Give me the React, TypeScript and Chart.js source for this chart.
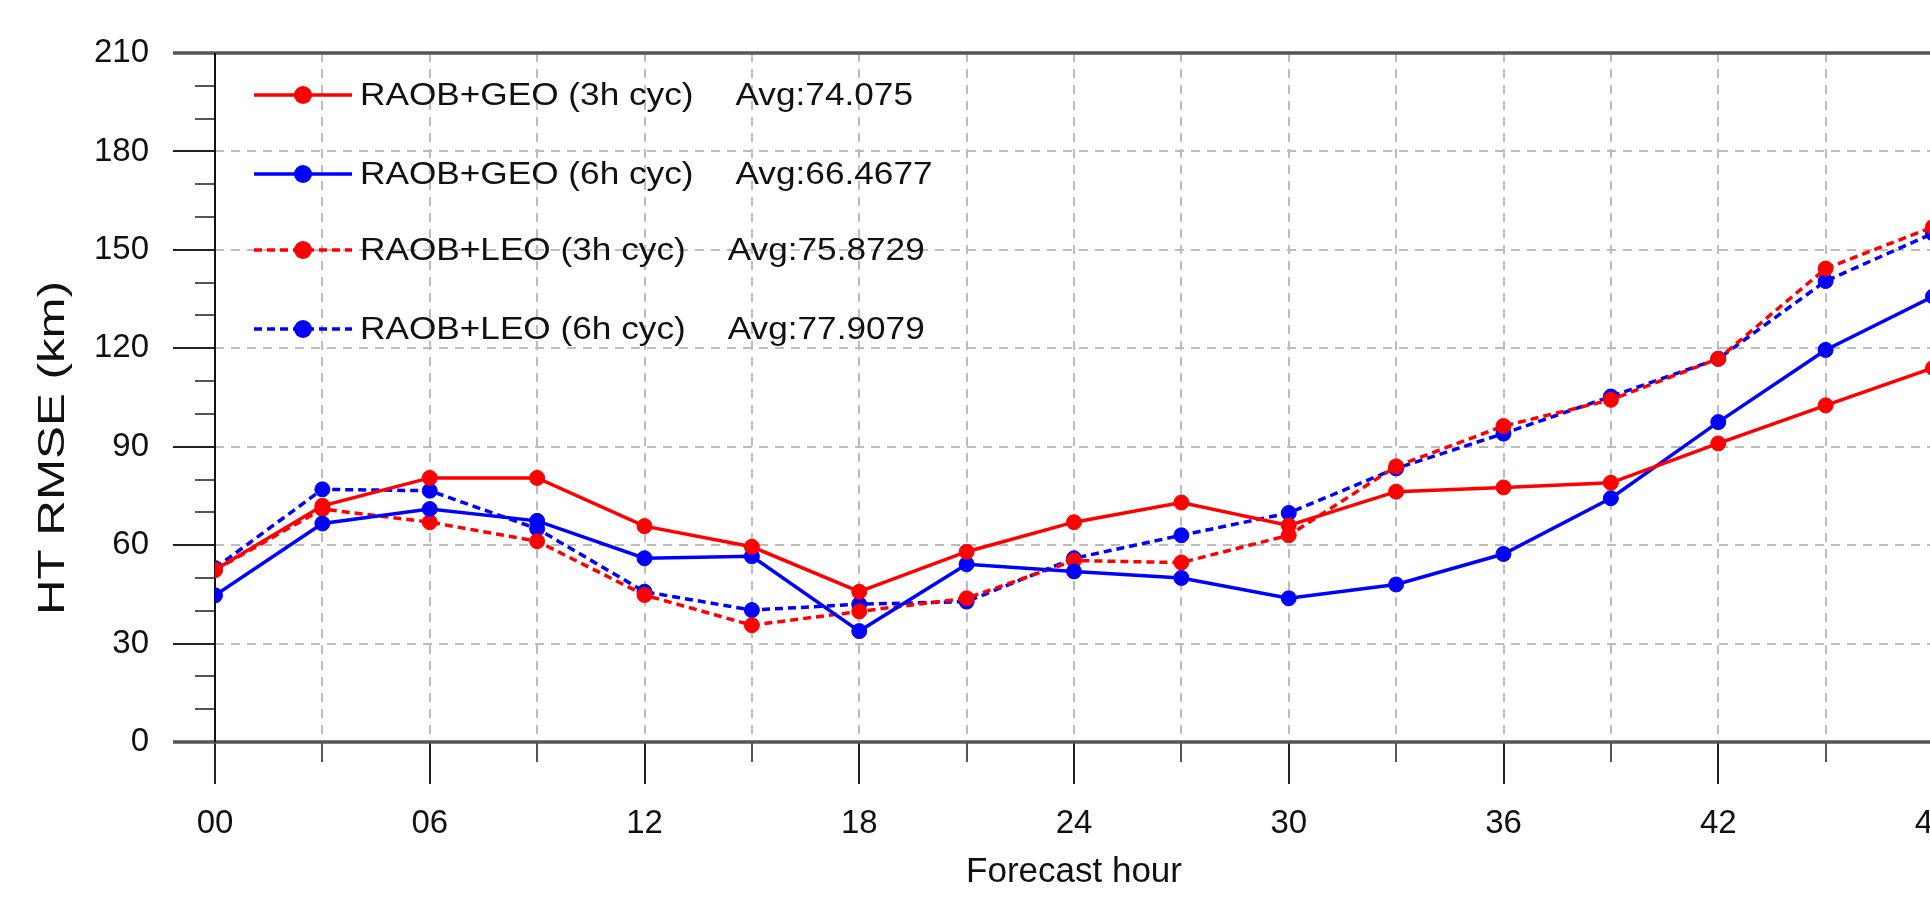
import React, { useEffect, useRef } from "react";
import { Chart, registerables } from "chart.js";

Chart.register(...registerables);

// ---------- data ----------
const hours = [0, 3, 6, 9, 12, 15, 18, 21, 24, 27, 30, 33, 36, 39, 42, 45, 48];
const geo3h = [52.5, 72, 80.5, 80.5, 65.8, 59.5, 45.8, 58, 67, 73, 66, 76.3, 77.6, 79, 91, 102.6, 114];
const geo6h = [44.7, 66.6, 71, 67.4, 56, 56.6, 33.8, 54.2, 52, 50, 43.8, 48, 57.3, 74.3, 97.5, 119.5, 135.8];
const leo3h = [52.4, 71, 67, 61.2, 44.8, 35.6, 39.8, 43.8, 55.3, 54.7, 63, 84, 96.3, 104.3, 116.8, 144.3, 157];
const leo6h = [53, 77, 76.6, 65, 45.8, 40.2, 42, 42.8, 56, 63, 69.8, 83.4, 94, 105.3, 116.8, 140.5, 155];

const seriesNames = ["RAOB+GEO (3h cyc)", "RAOB+GEO (6h cyc)", "RAOB+LEO (3h cyc)", "RAOB+LEO (6h cyc)"];
const seriesAvgs = ["Avg:74.075", "Avg:66.4677", "Avg:75.8729", "Avg:77.9079"];

const yMin = 0;
const yMax = 210;
const yMajorStep = 30;
const yMinorStep = 10;
const xMin = 0;
const xMax = 48;
const xMajorStep = 6;
const xMinorStep = 3;

const xTitle = "Forecast hour";
const yTitle = "HT RMSE (km)";

// ---------- layout / style ----------
const CANVAS_W = 1980;
const CANVAS_H = 897;
const FONT = "'Liberation Sans', Arial, Helvetica, sans-serif";
const RED = "#ff0000";
const BLUE = "#0000ff";
const DASH = [8, 5];
const GRID_DASH = [9, 7];
const LEGEND_ROWS = [95, 174, 250, 329];

const toPts = (arr: number[]) => hours.map((h, i) => ({ x: h, y: arr[i] }));

const framePlugin = {
  id: "frame",
  beforeDatasetsDraw(chart: any) {
    const ctx = chart.ctx;
    const { left, right, top, bottom } = chart.chartArea;
    const xs = chart.scales.x;
    const ys = chart.scales.y;
    ctx.save();
    // y ticks
    for (let v = yMin; v <= yMax; v += yMinorStep) {
      const major = v % yMajorStep === 0;
      const len = major ? 42 : 20;
      const py = Math.round(ys.getPixelForValue(v));
      ctx.beginPath();
      ctx.strokeStyle = major ? "#222" : "#555";
      ctx.lineWidth = 2;
      ctx.moveTo(left - len, py);
      ctx.lineTo(left, py);
      ctx.stroke();
    }
    // x ticks
    for (let h = xMin; h <= xMax; h += xMinorStep) {
      const major = h % xMajorStep === 0;
      const len = major ? 42 : 20;
      const px = Math.round(xs.getPixelForValue(h));
      ctx.beginPath();
      ctx.strokeStyle = major ? "#222" : "#555";
      ctx.lineWidth = 2;
      ctx.moveTo(px, bottom);
      ctx.lineTo(px, bottom + len);
      ctx.stroke();
    }
    // top & bottom frame lines
    ctx.strokeStyle = "#555";
    ctx.lineWidth = 3.5;
    ctx.beginPath();
    ctx.moveTo(left - 42, top);
    ctx.lineTo(right, top);
    ctx.moveTo(left - 42, bottom);
    ctx.lineTo(right, bottom);
    ctx.stroke();
    // left axis
    ctx.strokeStyle = "#111";
    ctx.lineWidth = 2;
    ctx.beginPath();
    ctx.moveTo(left, top);
    ctx.lineTo(left, bottom);
    ctx.stroke();
    ctx.restore();
  },
  afterDraw(chart: any) {
    const ctx = chart.ctx;
    ctx.save();
    // legend
    chart.data.datasets.forEach((ds: any, i: number) => {
      const y = LEGEND_ROWS[i];
      ctx.strokeStyle = ds.borderColor;
      ctx.lineWidth = 3.5;
      ctx.setLineDash(ds.borderDash || []);
      ctx.beginPath();
      ctx.moveTo(254, y);
      ctx.lineTo(352, y);
      ctx.stroke();
      ctx.setLineDash([]);
      ctx.fillStyle = ds.borderColor;
      ctx.beginPath();
      ctx.arc(303, y, 9, 0, Math.PI * 2);
      ctx.fill();
      ctx.fillStyle = "#111";
      ctx.font = `32px ${FONT}`;
      ctx.textAlign = "left";
      ctx.textBaseline = "middle";
      const w = ctx.measureText(seriesNames[i]).width * 1.1;
      ctx.save();
      ctx.translate(360, y + 1);
      ctx.scale(1.1, 1);
      ctx.fillText(seriesNames[i], 0, 0);
      ctx.restore();
      ctx.save();
      ctx.translate(360 + w + 42, y + 1);
      ctx.scale(1.1, 1);
      ctx.fillText(seriesAvgs[i], 0, 0);
      ctx.restore();
    });
    // y title
    ctx.save();
    ctx.translate(54, 448);
    ctx.rotate(-Math.PI / 2);
    ctx.scale(1.37, 1);
    ctx.font = `36px ${FONT}`;
    ctx.fillStyle = "#111";
    ctx.textAlign = "center";
    ctx.textBaseline = "middle";
    ctx.fillText(yTitle, 0, 0);
    ctx.restore();
    ctx.restore();
  },
};

const mkDataset = (i: number, arr: number[], color: string, dashed: boolean) => ({
  label: seriesNames[i],
  data: toPts(arr),
  borderColor: color,
  backgroundColor: color,
  borderWidth: 3.5,
  borderDash: dashed ? DASH : [],
  pointRadius: 7.5,
  pointBackgroundColor: color,
  pointBorderColor: color,
  pointBorderWidth: 1,
  tension: 0,
});

export default function App() {
  const ref = useRef<HTMLCanvasElement | null>(null);
  useEffect(() => {
    if (!ref.current) return;
    Chart.defaults.font.family = FONT;
    const chart = new Chart(ref.current, {
      type: "line",
      data: {
        datasets: [
          mkDataset(0, geo3h, RED, false),
          mkDataset(1, geo6h, BLUE, false),
          mkDataset(2, leo3h, RED, true),
          mkDataset(3, leo6h, BLUE, true),
        ],
      },
      options: {
        responsive: false,
        animation: false,
        devicePixelRatio: 1,
        layout: { padding: { left: 0, top: 53, right: 47, bottom: 0 } },
        plugins: { legend: { display: false }, tooltip: { enabled: false } },
        scales: {
          x: {
            type: "linear",
            min: xMin,
            max: xMax,
            afterFit: (s: any) => { s.height = 155; },
            ticks: {
              stepSize: xMinorStep,
              autoSkip: false,
              maxRotation: 0,
              padding: 4,
              color: "#111",
              font: { size: 33 },
              callback: (v: any) => (Number(v) % xMajorStep === 0 ? String(v).padStart(2, "0") : ""),
            },
            grid: {
              drawTicks: true,
              tickLength: 58,
              tickColor: "rgba(0,0,0,0)",
              lineWidth: 2,
              color: (c: any) => (c.tick && (c.tick.value === xMin || c.tick.value === xMax) ? "rgba(0,0,0,0)" : "#bcbcbc"),
            },
            border: { display: false, dash: GRID_DASH },
            title: { display: true, text: xTitle, color: "#111", font: { size: 35 }, padding: { top: 0, bottom: 4 } },
          },
          y: {
            min: yMin,
            max: yMax,
            afterFit: (s: any) => { s.width = 215; },
            ticks: { stepSize: yMajorStep, padding: 4, color: "#111", font: { size: 33 } },
            grid: {
              drawTicks: true,
              tickLength: 62,
              tickColor: "rgba(0,0,0,0)",
              lineWidth: 2,
              color: (c: any) => (c.tick && (c.tick.value === yMin || c.tick.value === yMax) ? "rgba(0,0,0,0)" : "#bcbcbc"),
            },
            border: { display: false, dash: GRID_DASH },
          },
        },
      },
      plugins: [framePlugin],
    } as any);
    return () => chart.destroy();
  }, []);

  return (
    <div style={{ position: "fixed", left: 0, top: 0, width: 1930, height: 897, overflow: "hidden", background: "#fff" }}>
      <canvas ref={ref} width={CANVAS_W} height={CANVAS_H} style={{ display: "block" }} />
    </div>
  );
}
